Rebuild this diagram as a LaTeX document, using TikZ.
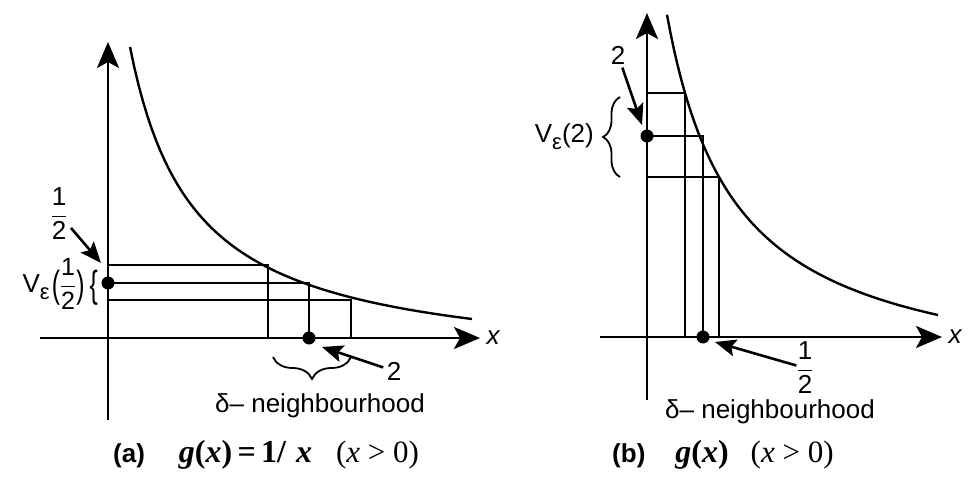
\documentclass[tikz,border=0pt]{standalone}
\usepackage{amsmath}
\usepackage{graphicx}
\usepackage{fontspec}
\setmainfont{Liberation Sans}
\newfontfamily\capfont{Liberation Serif}
\usetikzlibrary{arrows.meta,positioning,decorations.pathreplacing}
\newcommand{\capbi}[1]{{\capfont\bfseries\itshape #1}}
\newcommand{\capbf}[1]{{\capfont\bfseries #1}}
\newcommand{\caprm}[1]{{\capfont #1}}
\newcommand{\half}{$\dfrac{\text{1}}{\text{2}}$}
\newcommand{\tallch}[1]{\raisebox{-5pt}{\scalebox{0.95}[1.45]{#1}}}
\newcommand{\veps}{\raisebox{-7pt}{\fontsize{22}{24}\selectfont ε}}

\begin{document}
\begin{tikzpicture}[x=1pt,y=-1pt,font=\fontsize{26}{30}\selectfont,
  axis/.style={line width=2.8pt,-{Stealth[length=26pt,width=22pt,inset=6pt]}},
  gridln/.style={line width=2.6pt},
  curveln/.style={line width=2.4pt},
  dot/.style={circle,fill,inner sep=0pt,minimum size=13pt},
  ptr/.style={line width=2.6pt,-{Stealth[length=21pt,width=17pt,inset=4pt]}},
  brc/.style={line width=1.8pt,decorate,decoration={brace,amplitude=#1}}]
  \useasboundingbox (0,0) rectangle (976,478);

  % (a) g(x) = 1/x
  \draw[axis] (40,338) -- (480,338) node[right=2pt] (xa) {\textit{x}};
  \draw[axis] (108,420) -- (108,42);
  \draw[gridln] (108,265) -| (268,338);
  \draw[gridln] (108,283) -| (309,338);
  \draw[gridln] (108,300) -| (351,338);
  \draw[curveln] plot[domain=130:472,samples=80] (\x,{369.9-206.66/((\x-66)/100)});
  \node[dot] (ya) at (108,283) {};
  \node[dot] (da) at (309,338) {};
  \coordinate (tipya) at (101,263);
  \coordinate (tipda) at (322,347);

  \node (halfa) at (59,214) {\half};
  \node[anchor=east, inner sep=0pt] (va) at (98,284)
    {V\veps\hspace{2pt}\tallch{(}{\fontsize{25}{28}\selectfont\half}\tallch{)}\hspace{5pt}\tallch{\{}};
  \draw[ptr] (halfa) -- (tipya);

  \draw[brc=22pt] (351,357) -- (273,357);
  \node (twoa) at (394,371) {2};
  \draw[ptr] (twoa) -- (tipda);
  \node[anchor=base] (nbha) at (320,412) {δ– neighbourhood};

  % (b) g(x)
  \draw[axis] (600,337) -- (942,337) node[right=2pt] (xb) {\textit{x}};
  \draw[axis] (647,400) -- (647,13);
  \draw[gridln] (647,93) -| (685,337);
  \draw[gridln] (647,136) -| (703,337);
  \draw[gridln] (647,177) -| (719,337);
  \draw[curveln] plot[domain=667:938,samples=80] (\x,{391-258.03/((\x-598.4)/100)});
  \node[dot] (yb) at (647,136) {};
  \node[dot] (db) at (703,337) {};
  \coordinate (tipyb) at (642,125);
  \coordinate (tipdb) at (715,342);

  \node (twob) at (618,55) {2};
  \draw[ptr] (twob) -- (tipyb);
  \draw[brc=17pt] (620,177) -- (620,97);
  \node[anchor=east, inner sep=0pt] (vb) at (594,137) {V\veps(2)};
  \node[inner sep=0pt] (halfb) at (805,368) {\half};
  \draw[ptr] (halfb) -- (tipdb);
  \node[anchor=base] (nbhb) at (770,418) {δ– neighbourhood};

  % captions
  \node[anchor=base west, inner sep=0pt] (capa) at (113,462)
    {\textbf{(a)}\hspace{34pt}{\fontsize{32}{34}\selectfont\capbi{g}\capbf{(}\capbi{x}\capbf{)\,=\,1/}\hspace{10pt}\capbi{x}}\hspace{24pt}{\fontsize{31}{33}\selectfont\caprm{(}{\capfont\itshape x}\caprm{ > 0)}}};
  \node[anchor=base west, inner sep=0pt] (capb) at (612,462)
    {\textbf{(b)}\hspace{30pt}{\fontsize{32}{34}\selectfont\capbi{g}\capbf{(}\capbi{x}\capbf{)}}\hspace{22pt}{\fontsize{31}{33}\selectfont\caprm{(}{\capfont\itshape x}\caprm{ > 0)}}};
\end{tikzpicture}
\end{document}
